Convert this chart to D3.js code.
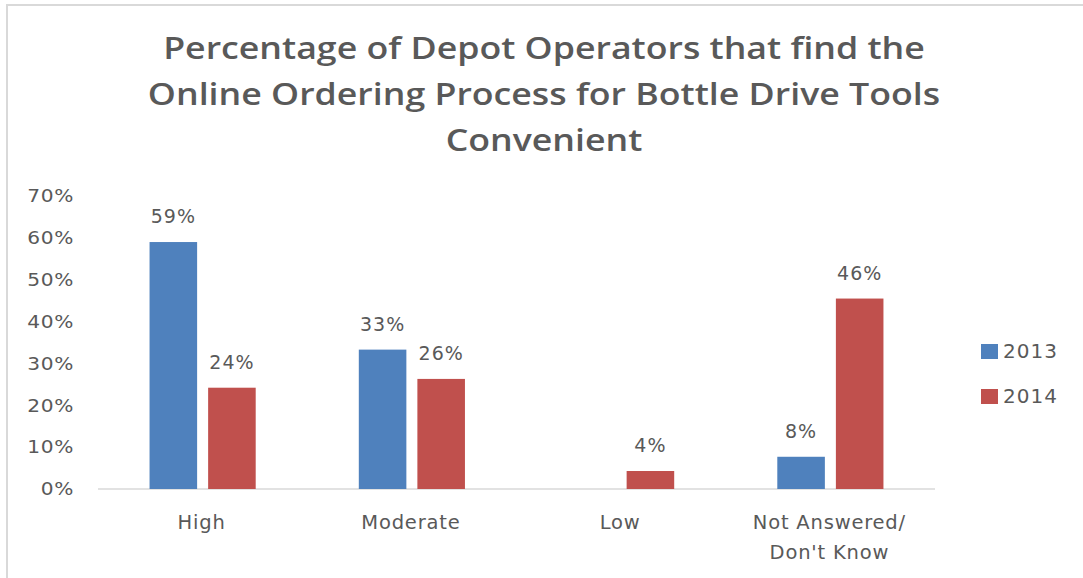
<!DOCTYPE html>
<html>
<head>
<meta charset="utf-8">
<script src="https://cdn.jsdelivr.net/npm/d3@7"></script>
<style>
  body { margin: 0; background: #fff; }
  text { fill: #595959; }
</style>
</head>
<body>
<div id="chart"></div>
<script>
// chart data
const categories = [["High"], ["Moderate"], ["Low"], ["Not Answered/", "Don't Know"]]
const seriesNames = ["2013", "2014"]
const values2013 = [59, 33.3, 0, 7.7]
const values2014 = [24.2, 26.3, 4.3, 45.5]
const yTicks = [0, 10, 20, 30, 40, 50, 60, 70]
const titleLines = [
  "Percentage of Depot Operators that find the",
  "Online Ordering Process for Bottle Drive Tools",
  "Convenient"
]
const colors = ["#4F81BD", "#C0504D"]

const width = 1083, height = 578

const svg = d3.select("#chart").append("svg")
    .attr("width", width)
    .attr("height", height)

// outer frame
svg.append("rect")
    .attr("x", 7).attr("y", 5)
    .attr("width", width + 10).attr("height", height + 10)
    .attr("fill", "none")
    .attr("stroke", "#d9d9d9")
    .attr("stroke-width", 2)

// title (glyphs in the original are stretched sideways)
svg.append("g")
    .attr("transform", "translate(544,0) scale(1.19,1)")
  .selectAll("text")
  .data(titleLines)
  .join("text")
    .attr("x", 0)
    .attr("y", (d, i) => 59 + i * 46)
    .attr("text-anchor", "middle")
    .style("font-family", "'Open Sans', sans-serif")
    .style("font-weight", 600)
    .style("font-size", "30px")
    .text(d => d)

// scales
const x0 = d3.scaleBand()
    .domain(categories.map(d => d.join(" ")))
    .range([98, 935])

const x1 = d3.scaleBand()
    .domain(seriesNames)
    .range([0, x0.bandwidth()])
    .paddingInner(0.188)
    .paddingOuter(0.88)

const y = d3.scaleLinear()
    .domain([0, 70])
    .range([489, 196])

// y axis labels (no line, no ticks)
const yAxis = svg.append("g")
    .attr("transform", "translate(74,0)")
    .call(d3.axisLeft(y).tickValues(yTicks).tickFormat(d => d + "%").tickSize(0).tickPadding(0))
yAxis.select(".domain").remove()
yAxis.selectAll("text")
    .attr("transform", "scale(1.12,1)")
    .style("font-family", "'DejaVu Sans', sans-serif")
    .style("font-size", "18px")
    .style("letter-spacing", "0.6px")
    .attr("fill", "#595959")

// baseline
svg.append("line")
    .attr("x1", 98).attr("x2", 935)
    .attr("y1", y(0)).attr("y2", y(0))
    .attr("stroke", "#d9d9d9")
    .attr("stroke-width", 1.5)

// bars
const rows = categories.map((c, i) => ({
  key: c.join(" "),
  vals: [values2013[i], values2014[i]]
}))

const groups = svg.append("g").selectAll("g")
  .data(rows)
  .join("g")
    .attr("transform", d => `translate(${x0(d.key)},0)`)

groups.selectAll("rect")
  .data(d => d.vals.map((v, j) => ({ s: seriesNames[j], v, j })))
  .join("rect")
    .attr("x", d => x1(d.s))
    .attr("width", x1.bandwidth())
    .attr("y", d => y(d.v))
    .attr("height", d => y(0) - y(d.v))
    .attr("fill", d => colors[d.j])

// data labels (skip zero)
groups.selectAll("text")
  .data(d => d.vals.map((v, j) => ({ s: seriesNames[j], v, j })).filter(d => d.v > 0))
  .join("text")
    .attr("x", d => x1(d.s) + x1.bandwidth() / 2)
    .attr("y", d => y(d.v) - 19)
    .attr("text-anchor", "middle")
    .style("font-family", "'DejaVu Sans', sans-serif")
    .style("font-size", "19px")
    .style("letter-spacing", "1px")
    .text(d => Math.round(d.v) + "%")

// category labels
const catLabels = svg.append("g").selectAll("text")
  .data(categories)
  .join("text")
    .attr("x", d => x0(d.join(" ")) + x0.bandwidth() / 2 - 1)
    .attr("y", 529)
    .attr("text-anchor", "middle")
    .style("font-family", "'DejaVu Sans', sans-serif")
    .style("font-size", "19.5px")
    .style("letter-spacing", "0.8px")

catLabels.selectAll("tspan")
  .data(d => d)
  .join("tspan")
    .attr("x", function() { return d3.select(this.parentNode).attr("x") })
    .attr("dy", (d, i) => i === 0 ? 0 : 30)
    .text(d => d)

// legend
const legend = svg.append("g").selectAll("g")
  .data(seriesNames)
  .join("g")
    .attr("transform", (d, i) => `translate(981,${344 + i * 45})`)

legend.append("rect")
    .attr("width", 17).attr("height", 15)
    .attr("fill", (d, i) => colors[i])

legend.append("text")
    .attr("x", 22)
    .attr("y", 14)
    .style("font-family", "'DejaVu Sans', sans-serif")
    .style("font-size", "20px")
    .style("letter-spacing", "1px")
    .text(d => d)
</script>
</body>
</html>
